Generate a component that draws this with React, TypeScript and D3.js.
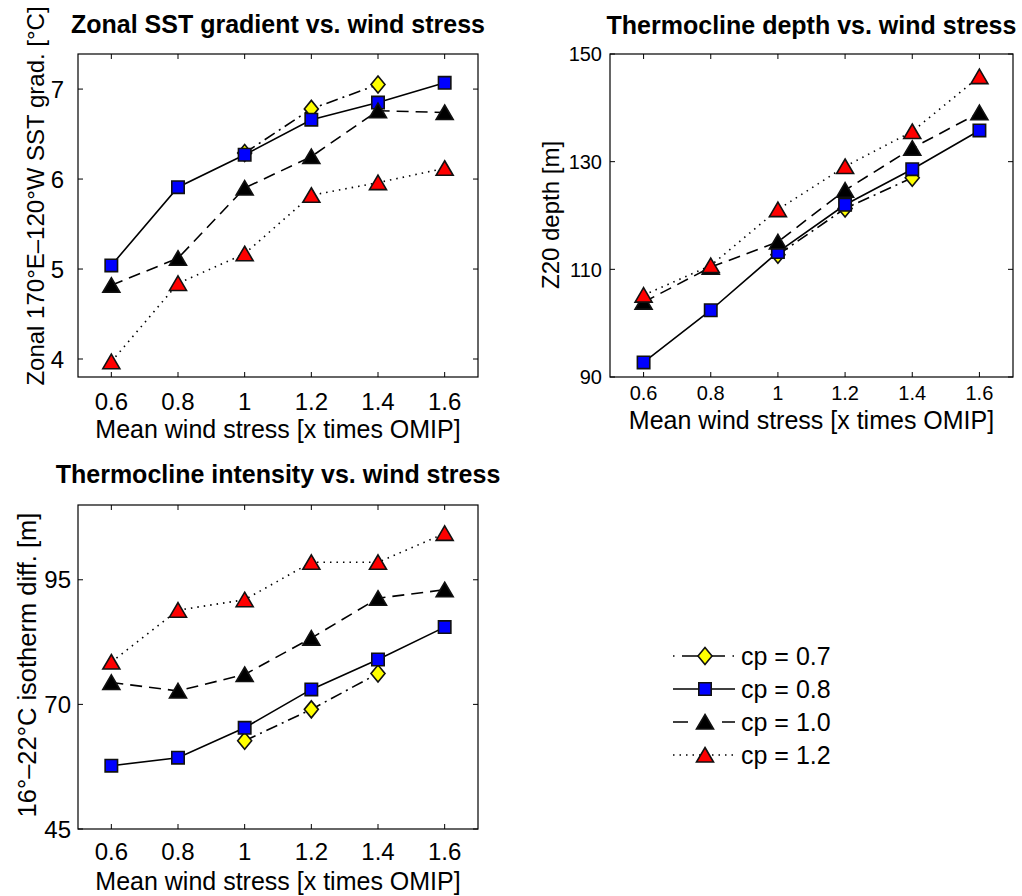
import React from "react";
import * as d3 from "d3";

// ---------- data ----------
const windStress = [0.6, 0.8, 1.0, 1.2, 1.4, 1.6];
const windStressCp07 = [1.0, 1.2, 1.4];
const xTicks = [0.6, 0.8, 1.0, 1.2, 1.4, 1.6];

// Panel 1: zonal SST gradient [°C]
const sstCp07 = [6.29, 6.78, 7.05];
const sstCp08 = [5.04, 5.91, 6.27, 6.66, 6.85, 7.07];
const sstCp10 = [4.82, 5.12, 5.9, 6.25, 6.76, 6.74];
const sstCp12 = [3.97, 4.84, 5.17, 5.82, 5.96, 6.12];
const sstTicks = [4, 5, 6, 7];

// Panel 2: Z20 depth [m]
const z20Cp07 = [112.7, 121.3, 127.0];
const z20Cp08 = [92.7, 102.4, 113.2, 122.0, 128.6, 135.8];
const z20Cp10 = [103.9, 110.4, 115.1, 124.7, 132.5, 139.1];
const z20Cp12 = [105.2, 110.7, 121.1, 129.1, 135.6, 145.8];
const z20Ticks = [90, 110, 130, 150];

// Panel 3: 16-22°C isotherm difference [m]
const isoCp07 = [62.7, 69.0, 76.2];
const isoCp08 = [57.7, 59.3, 65.3, 73.0, 79.0, 85.5];
const isoCp10 = [74.4, 72.7, 76.0, 83.3, 91.3, 93.0];
const isoCp12 = [78.5, 88.9, 91.0, 98.5, 98.5, 104.3];
const isoTicks = [45, 70, 95];

const seriesNames = ["cp = 0.7", "cp = 0.8", "cp = 1.0", "cp = 1.2"];

// ---------- styles ----------
const FONT = "'Liberation Sans', Arial, Helvetica, sans-serif";
const seriesStyle = [
  { fill: "#ffff00", marker: "diamond", dash: "12,5,2,5", legendDash: "1.5,7.5,43,7.5,1.5,20" },
  { fill: "#0000ff", marker: "square", dash: "", legendDash: "" },
  { fill: "#000000", marker: "triangle", dash: "12,7", legendDash: "15,34,15" },
  { fill: "#ff0000", marker: "triangle", dash: "1.5,5", legendDash: "1.5,5" },
];

const fmtX = (v: number) => d3.format("~g")(v);

function markerPath(type: string, cx: number, cy: number) {
  const p = d3.path();
  if (type === "square") {
    p.rect(cx - 6.2, cy - 6.2, 12.4, 12.4);
  } else if (type === "diamond") {
    p.moveTo(cx, cy - 8.5);
    p.lineTo(cx + 7, cy);
    p.lineTo(cx, cy + 8.5);
    p.lineTo(cx - 7, cy);
    p.closePath();
  } else {
    p.moveTo(cx, cy - 7.5);
    p.lineTo(cx + 8.5, cy + 7);
    p.lineTo(cx - 8.5, cy + 7);
    p.closePath();
  }
  return p.toString();
}

type PanelCfg = {
  title: string;
  xLabel: string;
  yLabel: string;
  l: number; t: number; r: number; b: number;
  yDomain: [number, number];
  yTicks: number[];
  tickFont: number;
  yTickEnd: number;
  xTickBase: number;
  xLabelBase: number;
  titleBase: number;
  yLabelX: number;
  yLabelY: number;
  yLabelFont: number;
  data: { xs: number[]; ys: number[] }[];
};

const panels: PanelCfg[] = [
  {
    title: "Zonal SST gradient vs. wind stress",
    xLabel: "Mean wind stress [x times OMIP]",
    yLabel: "Zonal 170°E–120°W SST grad. [°C]",
    l: 78, t: 54, r: 478, b: 377,
    yDomain: [3.8, 7.39],
    yTicks: sstTicks,
    tickFont: 24,
    yTickEnd: 64,
    xTickBase: 410,
    xLabelBase: 438,
    titleBase: 33,
    yLabelX: 44,
    yLabelY: 196,
    yLabelFont: 24,
    data: [
      { xs: windStressCp07, ys: sstCp07 },
      { xs: windStress, ys: sstCp08 },
      { xs: windStress, ys: sstCp10 },
      { xs: windStress, ys: sstCp12 },
    ],
  },
  {
    title: "Thermocline depth vs. wind stress",
    xLabel: "Mean wind stress [x times OMIP]",
    yLabel: "Z20 depth [m]",
    l: 610, t: 54, r: 1013, b: 377,
    yDomain: [90, 150],
    yTicks: z20Ticks,
    tickFont: 20,
    yTickEnd: 602,
    xTickBase: 400,
    xLabelBase: 429,
    titleBase: 34,
    yLabelX: 559,
    yLabelY: 215,
    yLabelFont: 24,
    data: [
      { xs: windStressCp07, ys: z20Cp07 },
      { xs: windStress, ys: z20Cp08 },
      { xs: windStress, ys: z20Cp10 },
      { xs: windStress, ys: z20Cp12 },
    ],
  },
  {
    title: "Thermocline intensity vs. wind stress",
    xLabel: "Mean wind stress [x times OMIP]",
    yLabel: "16°–22°C isotherm diff. [m]",
    l: 78, t: 505, r: 478, b: 829,
    yDomain: [45, 110],
    yTicks: isoTicks,
    tickFont: 24,
    yTickEnd: 71,
    xTickBase: 860,
    xLabelBase: 890,
    titleBase: 483,
    yLabelX: 36,
    yLabelY: 665,
    yLabelFont: 25.5,
    data: [
      { xs: windStressCp07, ys: isoCp07 },
      { xs: windStress, ys: isoCp08 },
      { xs: windStress, ys: isoCp10 },
      { xs: windStress, ys: isoCp12 },
    ],
  },
];

function Panel({ cfg }: { cfg: PanelCfg }) {
  const x = d3.scaleLinear().domain([0.5, 1.7]).range([cfg.l, cfg.r]);
  const y = d3.scaleLinear().domain(cfg.yDomain).range([cfg.b, cfg.t]);
  const cx = (cfg.l + cfg.r) / 2;
  const tk = 5;
  return (
    <g>
      <text x={cx} y={cfg.titleBase} textAnchor="middle" fontFamily={FONT} fontWeight="bold" fontSize={25}>
        {cfg.title}
      </text>
      <rect x={cfg.l} y={cfg.t} width={cfg.r - cfg.l} height={cfg.b - cfg.t} fill="#fff" stroke="none" />
      {xTicks.map((v) => (
        <g key={"x" + v}>
          <line x1={x(v)} x2={x(v)} y1={cfg.b} y2={cfg.b - tk} stroke="#000" strokeWidth={1} />
          <line x1={x(v)} x2={x(v)} y1={cfg.t} y2={cfg.t + tk} stroke="#000" strokeWidth={1} />
          <text x={x(v)} y={cfg.xTickBase} textAnchor="middle" fontFamily={FONT} fontSize={cfg.tickFont}>
            {fmtX(v)}
          </text>
        </g>
      ))}
      {cfg.yTicks.map((v) => (
        <g key={"y" + v}>
          <line x1={cfg.l} x2={cfg.l + tk} y1={y(v)} y2={y(v)} stroke="#000" strokeWidth={1} />
          <line x1={cfg.r} x2={cfg.r - tk} y1={y(v)} y2={y(v)} stroke="#000" strokeWidth={1} />
          <text x={cfg.yTickEnd} y={y(v)} dy="0.36em" textAnchor="end" fontFamily={FONT} fontSize={cfg.tickFont}>
            {v}
          </text>
        </g>
      ))}
      <text x={cx} y={cfg.xLabelBase} textAnchor="middle" fontFamily={FONT} fontSize={25}>
        {cfg.xLabel}
      </text>
      <text
        transform={`translate(${cfg.yLabelX},${cfg.yLabelY}) rotate(-90)`}
        textAnchor="middle"
        fontFamily={FONT}
        fontSize={cfg.yLabelFont}
      >
        {cfg.yLabel}
      </text>
      {cfg.data.map((s, i) => {
        const st = seriesStyle[i];
        const pts = s.xs.map((xv, j) => [x(xv), y(s.ys[j])] as [number, number]);
        const line = d3.line()(pts) || "";
        return (
          <g key={"s" + i}>
            <path d={line} fill="none" stroke="#000" strokeWidth={1.6} strokeDasharray={st.dash || undefined} />
            {pts.map((p, j) => (
              <path key={j} d={markerPath(st.marker, p[0], p[1])} fill={st.fill} stroke="#111" strokeWidth={1.6} strokeLinejoin="miter" />
            ))}
          </g>
        );
      })}
      <rect x={cfg.l} y={cfg.t} width={cfg.r - cfg.l} height={cfg.b - cfg.t} fill="none" stroke="#000" strokeWidth={1.2} />
    </g>
  );
}

function Legend() {
  const rowY = d3.scalePoint<string>().domain(seriesNames).range([656, 755]);
  return (
    <g>
      {seriesNames.map((name, i) => {
        const st = seriesStyle[i];
        const yy = rowY(name) as number;
        return (
          <g key={name}>
            <line x1={673} x2={735} y1={yy} y2={yy} stroke="#000" strokeWidth={1.6} strokeDasharray={st.legendDash || undefined} />
            <path d={markerPath(st.marker, 705, yy)} fill={st.fill} stroke="#111" strokeWidth={1.6} />
            <text x={741} y={yy} dy="0.36em" fontFamily={FONT} fontSize={25}>
              {name}
            </text>
          </g>
        );
      })}
    </g>
  );
}

export default function App() {
  return (
    <svg
      width={1022}
      height={896}
      viewBox="0 0 1022 896"
      style={{ position: "absolute", left: 0, top: 0, background: "#fff" }}
    >
      <rect x={0} y={0} width={1022} height={896} fill="#fff" />
      {panels.map((p, i) => (
        <Panel key={i} cfg={p} />
      ))}
      <Legend />
    </svg>
  );
}
